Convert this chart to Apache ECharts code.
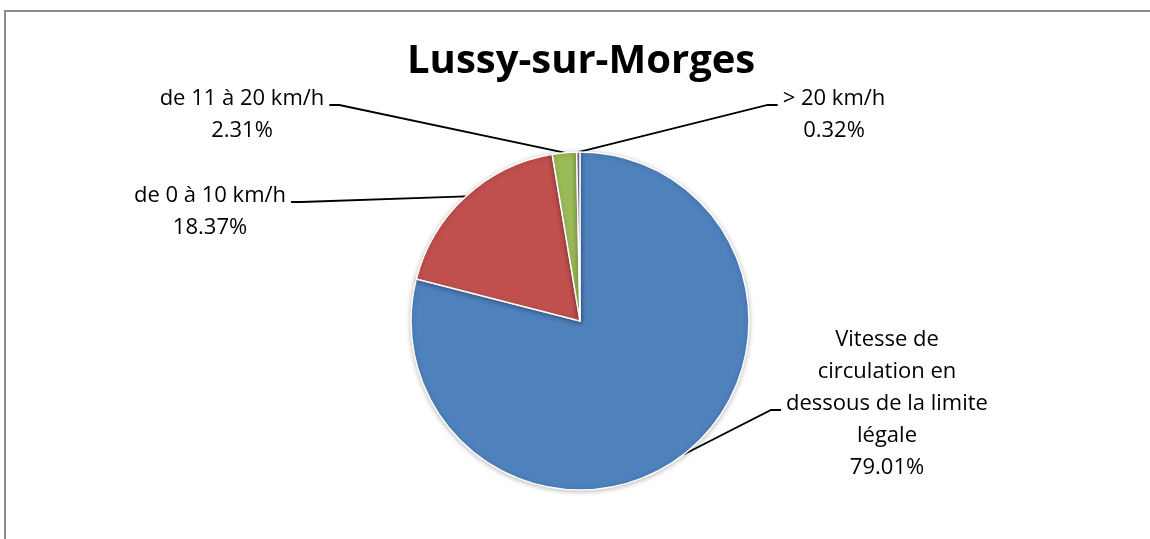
<!DOCTYPE html>
<html>
<head>
<meta charset="utf-8">
<title>Lussy-sur-Morges</title>
<script src="https://cdn.jsdelivr.net/npm/echarts@6/dist/echarts.min.js"></script>
<style>
  html, body { margin: 0; padding: 0; background: #fff; }
  #chart { width: 1150px; height: 539px; }
</style>
</head>
<body>
<div id="chart"></div>
<script>
// slices, clockwise from 12 o'clock
var categories = [
  'Vitesse de\ncirculation en\ndessous de la limite\nlégale',
  'de 0 à 10 km/h',
  'de 11 à 20 km/h',
  '> 20 km/h'
];
var shares = [79.01, 18.37, 2.31, 0.32];
var sliceColors = ['#4F81BD', '#C0504D', '#9BBB59', '#8064A2'];

// where each label sits: block centre x, block top y, side of the leader, line it hooks onto
var labelSpots = [
  { x: 887, top: 324, side: 'left', row: 2 },
  { x: 210, top: 180, side: 'right', row: 0 },
  { x: 242, top: 83, side: 'right', row: 0 },
  { x: 834, top: 83, side: 'left', row: 0 }
];
var LINE_H = 32;

var chart = echarts.init(document.getElementById('chart'), null, { renderer: 'canvas' });

chart.setOption({
  animation: false,
  backgroundColor: '#fff',
  textStyle: { fontFamily: '"Open Sans", sans-serif' },
  title: {
    text: 'Lussy-sur-Morges',
    left: 402,
    top: 37,
    textStyle: {
      fontFamily: '"Open Sans", sans-serif',
      fontSize: 40,
      fontWeight: 'bold',
      color: '#000'
    }
  },
  graphic: [{
    type: 'rect',
    shape: { x: 5, y: 11, width: 1200, height: 600 },
    style: { fill: 'none', stroke: '#8c8c8c', lineWidth: 2 },
    silent: true
  }],
  series: [{
    type: 'pie',
    center: [580, 321],
    radius: 169,
    startAngle: 90,
    clockwise: true,
    avoidLabelOverlap: false,
    data: categories.map(function (name, i) {
      return { name: name, value: shares[i], itemStyle: { color: sliceColors[i] } };
    }),
    itemStyle: {
      borderColor: '#fff',
      borderWidth: 1.5,
      shadowBlur: 5,
      shadowColor: 'rgba(0,0,0,0.25)',
      shadowOffsetY: 1
    },
    label: {
      show: true,
      position: 'outside',
      color: '#000',
      fontSize: 22,
      lineHeight: LINE_H,
      align: 'center',
      formatter: function (p) {
        return p.name + '\n' + p.value.toFixed(2) + '%';
      }
    },
    labelLine: {
      show: true,
      length: 20,
      length2: 10,
      lineStyle: { color: '#000', width: 1.8 }
    },
    labelLayout: function (params) {
      var spot = labelSpots[params.dataIndex];
      var w = params.labelRect.width;
      var y = spot.top + LINE_H * (spot.row + 0.5) + 6;
      var edge = spot.side === 'left' ? spot.x - w / 2 - 5 : spot.x + w / 2 + 5;
      var knee = spot.side === 'left' ? edge - 10 : edge + 10;
      var start = params.labelLinePoints ? params.labelLinePoints[0] : [knee, y];
      return {
        x: spot.x,
        y: spot.top,
        align: 'center',
        verticalAlign: 'top',
        labelLinePoints: [start, [knee, y], [edge, y]]
      };
    },
    emphasis: { disabled: true }
  }]
});
</script>
</body>
</html>
